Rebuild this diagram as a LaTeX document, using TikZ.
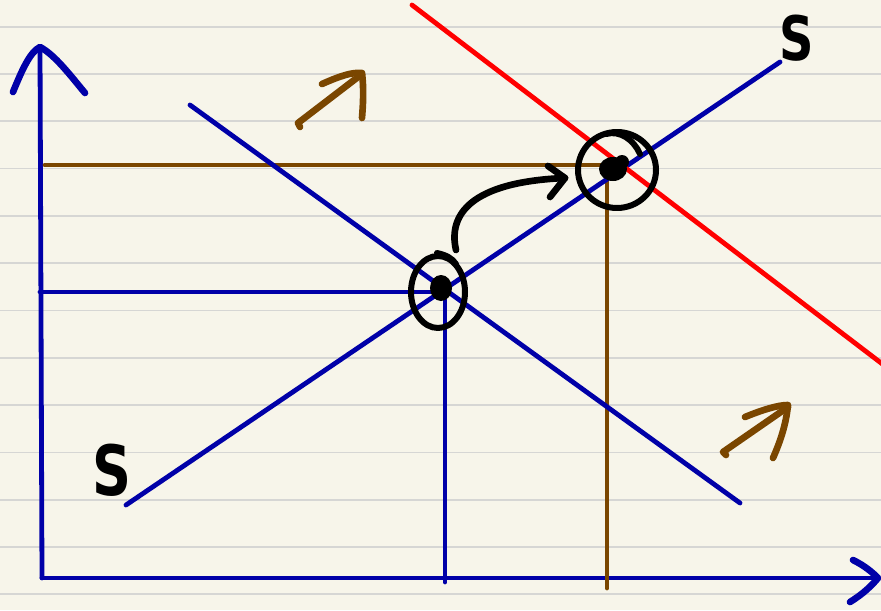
\documentclass[tikz,border=0pt]{standalone}
\usepackage{fontspec}
\newfontfamily\handfont{DejaVu Sans}
\definecolor{paper}{RGB}{247,245,234}
\definecolor{rule}{RGB}{214,214,212}
\definecolor{axblue}{RGB}{0,0,168}
\definecolor{shiftred}{RGB}{255,0,0}
\definecolor{brownln}{RGB}{122,70,0}
\tikzset{
  ruled/.style={draw=rule, line width=1.3pt},
  blueln/.style={draw=axblue, line width=3.6pt, line cap=round, line join=round},
  redln/.style={draw=shiftred, line width=3.6pt, line cap=round},
  brownguide/.style={draw=brownln, line width=3.6pt, line cap=round},
  brownarrow/.style={draw=brownln, line width=5pt, line cap=round, line join=round},
  inkmark/.style={draw=black, line width=4.5pt, line cap=round, line join=round},
  slabel/.style={font=\handfont\bfseries\fontsize{46}{46}\selectfont, text=black, inner sep=0pt, xscale=0.78}
}
\begin{document}
\begin{tikzpicture}[x=0.75pt, y=-0.75pt]
\useasboundingbox (0,0) rectangle (881,610);
\fill[paper] (0,0) rectangle (881,610);
\foreach \k in {0,...,12} {
  \draw[ruled] (0,{26.7+47.3*\k}) -- (881,{26.7+47.3*\k});
}
% coordinates
\coordinate (O) at (42,578);
\coordinate (Ytop) at (40,47);
\coordinate (Xend) at (878,578);
\coordinate (D1a) at (190,105);
\coordinate (D1b) at (740,503);
\coordinate (Sa) at (126,505);
\coordinate (Sb) at (780,62);
\coordinate (D2a) at (412,5);
\coordinate (D2b) at (885,366);
\coordinate (P1y) at (40,292);
\coordinate (E1) at (442,292);
\coordinate (E1top) at (445,292);
\coordinate (Q1) at (445,582);
\coordinate (P2y) at (45,165);
\coordinate (E2) at (607,165);
\coordinate (Q2) at (607,588);
% axes
\draw[blueln] (O) -- (Ytop);
\draw[blueln, line width=5pt] (13,92) .. controls (22,70) and (30,52) .. (Ytop) .. controls (55,55) and (70,75) .. (85,93);
\draw[blueln] (O) -- (Xend);
\draw[blueln, line width=5pt] (853,560) .. controls (865,566) and (872,572) .. (Xend) .. controls (868,590) and (858,597) .. (850,602);
% guide lines
\draw[blueln] (P1y) -- (E1);
\draw[blueln] (E1top) -- (Q1);
\draw[brownguide] (P2y) -- (E2) -- (Q2);
% curves
\draw[blueln] (D1a) -- (D1b);
\draw[blueln] (Sa) -- (Sb);
\draw[redln] (D2a) -- (D2b);
% equilibrium marks
\fill[black] (441,288) ellipse [x radius=11, y radius=13];
\draw[inkmark] (438,292) ellipse [x radius=27, y radius=36];
\draw[inkmark] (437,253) .. controls (446,255) and (452,258) .. (456,264);
\fill[black] (613,169) ellipse [x radius=14, y radius=12];
\fill[black] (622,162) circle [radius=7];
\draw[inkmark] (617,170) ellipse [x radius=39, y radius=38];
\draw[inkmark] (606,134) .. controls (620,130) and (634,140) .. (640,154);
% shift arrow
\coordinate (A1) at (456,250);
\coordinate (A2) at (565,178);
\draw[inkmark, line width=5pt] (A1) .. controls (448,215) and (470,182) .. (A2);
\draw[inkmark, line width=5pt] (548,166) -- (A2) -- (550,197);
% brown arrows
\draw[brownarrow] (300,127) -- (298,123) -- (362,74);
\draw[brownarrow] (322,84) .. controls (340,76) and (352,72) .. (362,73) .. controls (364,90) and (363,105) .. (362,118);
\draw[brownarrow] (726,455) -- (723,452) -- (788,407);
\draw[brownarrow] (745,417) .. controls (762,410) and (778,405) .. (788,405) .. controls (786,425) and (780,442) .. (773,458);
% labels
\node[slabel] (S1) at (797,38) {S};
\node[slabel, font=\handfont\bfseries\fontsize{52}{52}\selectfont] (S2) at (112,470) {S};
\end{tikzpicture}
\end{document}
